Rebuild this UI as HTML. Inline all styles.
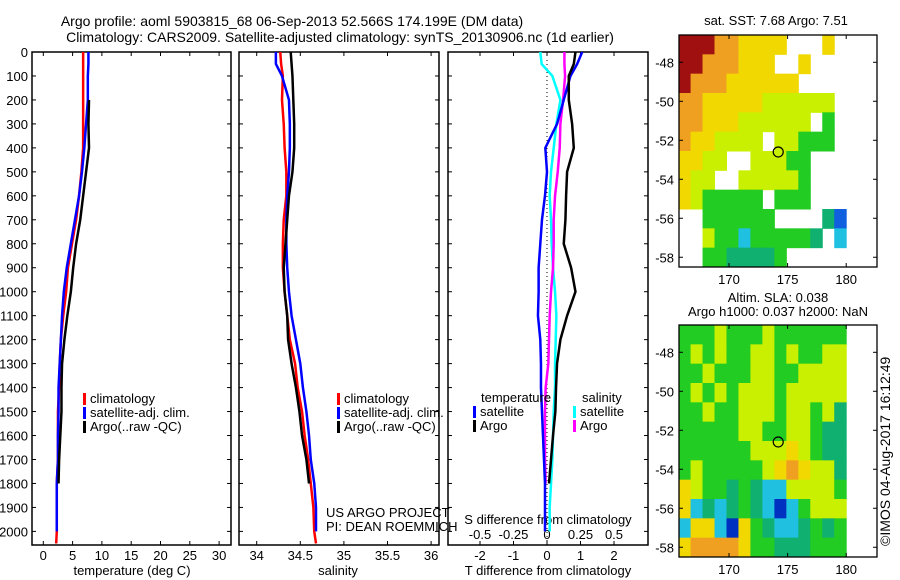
<!DOCTYPE html>
<html><head><meta charset="utf-8"><style>
body{margin:0;background:#fff;}
svg{display:block;font-family:"Liberation Sans",sans-serif;}
</style></head><body>
<svg id="c" width="900" height="580" viewBox="0 0 900 580">
<rect width="900" height="580" fill="#fff"/>
<text x="292" y="26" font-size="14" text-anchor="middle">Argo profile: aoml 5903815_68 06-Sep-2013 52.566S 174.199E (DM data)</text>
<text x="340" y="42" font-size="14" text-anchor="middle">Climatology: CARS2009. Satellite-adjusted climatology: synTS_20130906.nc (1d earlier)</text>
<g id="g"></g>
</svg>
<script>
const depths=[0,50,100,200,300,400,500,600,700,800,900,1000,1100,1200,1300,1400,1500,1600,1700,1800,1900,2000,2050];
const tClim=[6.8,6.8,6.8,6.8,6.8,6.8,6.5,6.1,5.6,4.9,4.2,3.9,3.4,3.0,2.8,2.7,2.5,2.5,2.5,2.3,2.3,2.3,2.2];
const tSat=[7.7,7.7,7.6,7.6,7.3,7.0,6.6,6.1,5.4,4.7,4.0,3.5,3.2,3.0,2.8,2.6,2.6,2.5,2.5,2.3,2.3,2.3,null];
const tArgo=[null,null,null,7.8,7.7,7.8,7.3,6.8,6.3,5.6,5.1,4.7,4.1,3.6,3.2,3.1,3.1,2.9,2.7,2.6,null,null,null];
const sClim=[34.27,34.28,34.30,34.29,34.31,34.32,34.34,34.34,34.31,34.30,34.30,34.32,34.35,34.38,34.44,34.47,34.52,34.55,34.59,34.62,34.65,34.66,34.68];
const sSat=[34.22,34.22,34.29,34.37,34.38,34.38,34.37,34.35,34.34,34.34,34.35,34.37,34.40,34.45,34.50,34.53,34.57,34.60,34.62,34.66,34.68,34.68,null];
const sArgo=[34.39,34.40,34.41,34.42,34.43,34.43,34.41,34.37,34.35,34.33,34.31,34.32,34.35,34.36,34.40,34.45,34.49,34.52,34.57,34.60,null,null,null];
const dTsat=[1.05,0.9,0.7,0.5,0.3,-0.05,0,-0.06,-0.15,-0.2,-0.25,-0.25,-0.27,-0.2,-0.18,-0.18,-0.15,-0.12,-0.09,-0.06,-0.06,-0.06,null];
const dTargo=[0.85,0.8,0.65,0.65,0.75,0.8,0.6,0.57,0.55,0.5,0.72,0.85,0.6,0.4,0.3,0.27,0.25,0.18,0.12,0.06,null,null,null];
const dSsat=[-0.05,-0.04,0.04,0.1,0.07,0.05,0.03,0.02,0.03,0.035,0.045,0.06,0.07,0.065,0.06,0.06,0.05,0.045,0.04,0.03,0.02,0.02,null];
const dSargo=[0.13,0.13,0.135,0.12,0.1,0.095,0.08,0.06,0.05,0.05,0.045,0.03,0.02,0.015,0.01,-0.01,-0.015,-0.015,-0.015,-0.01,null,null,null];
const depthTicks=[0,100,200,300,400,500,600,700,800,900,1000,1100,1200,1300,1400,1500,1600,1700,1800,1900,2000];
const tTicks=[0,5,10,15,20,25,30];
const sTicks=[34,34.5,35,35.5,36];
const sTickLabels=["34","34.5","35","35.5","36"];
const dTTicks=[-2,-1,0,1,2];
const dSTicks=[-0.5,-0.25,0,0.25,0.5];
const latTicks=[-48,-50,-52,-54,-56,-58];
const lonTicks=[170,175,180];
const sstGrid=["RRRooyyyy...y.","RRoooyyy..y...","Roooyyyyyy....","ooyyyyyYYYYYY.","ooyyyYYYYYY.g.","oyyYYYY.YYggg.","yyYY..YYYgg...","yYY..YYYYYg...","yYggggg.ggg...","..gggggg....tb","..Yggcgggggt.c","..ggttttg....."];
const slaGrid=["gggYgggYgggggg","gYgYggYYgYggYY","ggYgggYYggYYYY","gYgYgYYYgYYYYY","ggYggYYYgYYgYt","gggggYYggYYgtt","ggggggYYYyYgtt","gYgggggYyoyYYt","yYggtgtccYYYYg","yctctgtcBcgYYY","cyycBygtcctgtg","yooooyggtttggg"];
const colors={R:"#a01010",o:"#f0a020",y:"#f0d800",Y:"#c8f000",G:"#90e020",g:"#22cc22",t:"#10b070",c:"#20c0e0",b:"#1060e0",B:"#0030c0"};
const argoLon=174.2, argoLat=-52.6;

const NS="http://www.w3.org/2000/svg";
const G=document.getElementById('g');
function mk(tag,attrs,parent){const e=document.createElementNS(NS,tag);for(const k in attrs)e.setAttribute(k,attrs[k]);(parent||G).appendChild(e);return e;}
const Y0=52,PY=0.2397;
function yD(d){return Y0+d*PY;}
const panels=[{x0:32,x1:231},{x0:239,x1:439},{x0:448,x1:648}];
const xT=v=>43.3+v*5.86, xS=v=>256.7+(v-34)*87.2, xDT=v=>547+v*33.5, xDS=v=>547+v*134;

panels.forEach((p,i)=>{
 const r=mk('rect',{x:p.x0,y:52,width:p.x1-p.x0,height:493,fill:'none',stroke:'#000','stroke-width':1.5});
 
 
 depthTicks.forEach(d=>{
  mk('line',{x1:p.x0,x2:p.x0+4,y1:yD(d),y2:yD(d),stroke:'#000'});
  mk('line',{x1:p.x1,x2:p.x1-4,y1:yD(d),y2:yD(d),stroke:'#000'});
 });
});
depthTicks.forEach(d=>{
 const t=mk('text',{x:28,y:yD(d)+5,'font-size':13,'text-anchor':'end'});
 t.textContent=d;
 
 
});
function xticks(arr,f,p,labels,y){arr.forEach((v,i)=>{const x=f(v);
 mk('line',{x1:x,x2:x,y1:52,y2:56,stroke:'#000'});mk('line',{x1:x,x2:x,y1:545,y2:541,stroke:'#000'});
 const t=mk('text',{x:x,y:y,'font-size':13,'text-anchor':'middle'});t.textContent=labels?labels[i]:v;
 
 });}
xticks(tTicks,xT,panels[0],null,560);
xticks(sTicks,xS,panels[1],sTickLabels,560);
xticks(dTTicks,xDT,panels[2],null,560);
dSTicks.forEach(v=>{const t=mk('text',{x:xDS(v),y:539,'font-size':13,'text-anchor':'middle'});t.textContent=v===0?'0':String(v);
 
 });
function lab(x,y,s,name,anchor){const t=mk('text',{x:x,y:y,'font-size':13,'text-anchor':anchor||'middle'});t.textContent=s;
 
 return t;}
lab(132,575,'temperature (deg C)','x-axis-title-temperature');
lab(338,575,'salinity','x-axis-title-salinity');
lab(548,575,'T difference from climatology','x-axis-title-t-diff');
lab(548,524,'S difference from climatology','x-axis-title-s-diff');
lab(326,517,'US ARGO PROJECT','project-label','start');
lab(326,531,'PI: DEAN ROEMMICH','pi-label','start');

function stepLine(vals,f,color,name,w){
 let d='';let started=false;
 vals.forEach((v,i)=>{if(v===null){started=false;return;}
  const x=f(v),y=yD(depths[i]);
  if(!started){d+='M'+x+' '+y;started=true;}else d+=' L'+x+' '+y;});
 const p=mk('path',{d:d,fill:'none',stroke:color,'stroke-width':w||2.5,'stroke-linejoin':'round'});
 
 
}
const z=mk('line',{x1:xDT(0),x2:xDT(0),y1:60,y2:545,stroke:'#000','stroke-dasharray':'1,3'});


stepLine(tClim,xT,'#f00','temp-climatology-line');
stepLine(tSat,xT,'#00f','temp-satellite-line');
stepLine(tArgo,xT,'#000','temp-argo-line');
stepLine(sClim,xS,'#f00','sal-climatology-line');
stepLine(sSat,xS,'#00f','sal-satellite-line');
stepLine(sArgo,xS,'#000','sal-argo-line');
stepLine(dSsat,xDS,'#0ff','s-diff-satellite-line');
stepLine(dSargo,xDS,'#f0f','s-diff-argo-line');
stepLine(dTsat,xDT,'#00f','t-diff-satellite-line');
stepLine(dTargo,xDT,'#000','t-diff-argo-line');

function legend(x,y,items){items.forEach((it,i)=>{
 const r=mk('rect',{x:x,y:y+i*14-10,width:3,height:12,fill:it[1]});
 
 
 lab(x+7,y+i*14,it[0],'legend-entry','start');});}
legend(83,403,[['climatology','#f00'],['satellite-adj. clim.','#00f'],['Argo(..raw -QC)','#000']]);
legend(337,403,[['climatology','#f00'],['satellite-adj. clim.','#00f'],['Argo(..raw -QC)','#000']]);
lab(481,402,'temperature','legend-title-temperature','start');
lab(582,402,'salinity','legend-title-salinity','start');
legend(473,416,[['satellite','#00f'],['Argo','#000']]);
legend(573,416,[['satellite','#0ff'],['Argo','#f0f']]);

function map(yTop,yBot,grid,lonMax,name,latTop,latBot){
 const X0=679,X1=877,NC=14;
 const lx=l=>729+(l-170)*11.72;
 const ly=l=>yTop+((latTop-l)/(latTop-latBot))*(yBot-yTop);
 const rows=grid.length;const cw=(lx(lonMax)-lx(165.7))/NC;
 grid.forEach((row,ri)=>{
  for(let ci=0;ci<NC;ci++){const ch=row[ci];if(!colors[ch])continue;
   const x=lx(165.7)+ci*cw;
   const y=yTop+ri*(yBot-yTop)/rows, h=(yBot-yTop)/rows+0.5;
   const c=mk('rect',{x:x,y:y,width:cw+0.5,height:h,fill:colors[ch]});
   
   }
 });
 const f=mk('rect',{x:X0,y:yTop,width:X1-X0,height:yBot-yTop,fill:'none',stroke:'#000','stroke-width':1.3});
 
 
 latTicks.forEach(l=>{const y=ly(l);mk('line',{x1:X0,x2:X0+4,y1:y,y2:y,stroke:'#000'});mk('line',{x1:X1,x2:X1-4,y1:y,y2:y,stroke:'#000'});
  lab(674,y+5,String(l),'lat-tick-label','end');});
 lonTicks.forEach(l=>{const x=lx(l);mk('line',{x1:x,x2:x,y1:yTop,y2:yTop+4,stroke:'#000'});mk('line',{x1:x,x2:x,y1:yBot,y2:yBot-4,stroke:'#000'});
  lab(x,yBot+17,String(l),'lon-tick-label');});
 const c=mk('circle',{cx:lx(argoLon),cy:ly(argoLat),r:5,fill:'none',stroke:'#000','stroke-width':1.2});
 
 
}
map(35,267,sstGrid,180,'sst-map',-46.6,-58.5);
map(325,557,slaGrid,180,'sla-map',-46.6,-58.5);
lab(776,25,'sat. SST: 7.68 Argo: 7.51','sst-map-title');
lab(778,302,'Altim. SLA: 0.038','sla-map-title');
lab(778,316,'Argo h1000: 0.037 h2000: NaN','sla-map-subtitle');
const cp=lab(0,0,'©IMOS 04-Aug-2017 16:12:49','timestamp','start');
cp.setAttribute('transform','translate(890,546) rotate(-90)');
cp.setAttribute('font-size','14');
</script>
</body></html>
